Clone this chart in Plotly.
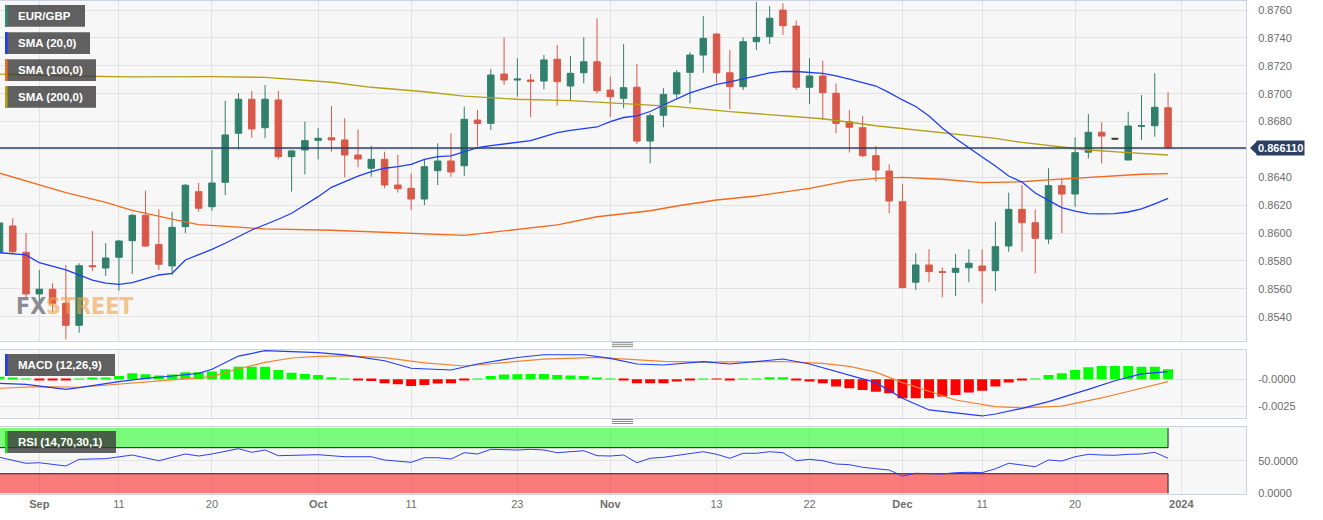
import pandas as pd
import plotly.graph_objects as go

# ---------------- data ----------------
dates = [d.strftime("%Y-%m-%d") for d in pd.bdate_range("2023-08-29", "2023-12-29")]
holidays = ["2023-12-25"]

opens = [0.85864, 0.86051, 0.85862, 0.85563, 0.85597, 0.85496, 0.85338, 0.85766, 0.85749, 0.85826,
         0.85945, 0.86127, 0.85917, 0.85764, 0.86046, 0.86297, 0.86189, 0.86364, 0.86716, 0.86960,
         0.86756, 0.86955, 0.86548, 0.86596, 0.86665, 0.86684, 0.86668, 0.86560, 0.86465, 0.86529,
         0.86345, 0.86321, 0.86244, 0.86448, 0.86517, 0.86483, 0.86811, 0.86787, 0.87141, 0.87098,
         0.87098, 0.87091, 0.87247, 0.87055, 0.87150, 0.87229, 0.87026, 0.86967, 0.87046, 0.86660,
         0.86845, 0.86998, 0.87153, 0.87277, 0.87428, 0.87150, 0.87050, 0.87373, 0.87409, 0.87600,
         0.87485, 0.87046, 0.87127, 0.87003, 0.86799, 0.86756, 0.86555, 0.86445, 0.86225, 0.85647,
         0.85771, 0.85723, 0.85718, 0.85751, 0.85764, 0.85730, 0.85907, 0.86170, 0.86074, 0.85957,
         0.86340, 0.86280, 0.86580, 0.86723, 0.86677, 0.86524, 0.86766, 0.86770, 0.86899]
highs = [0.86108, 0.86106, 0.86000, 0.85735, 0.85640, 0.85771, 0.85783, 0.86015, 0.85927, 0.85950,
         0.86137, 0.86304, 0.86170, 0.86153, 0.86352, 0.86361, 0.86596, 0.86950, 0.87003, 0.87021,
         0.87062, 0.87021, 0.86596, 0.86799, 0.86752, 0.86912, 0.86823, 0.86744, 0.86625, 0.86584,
         0.86560, 0.86429, 0.86524, 0.86644, 0.86716, 0.86907, 0.86883, 0.87177, 0.87404, 0.87254,
         0.87141, 0.87277, 0.87349, 0.87270, 0.87404, 0.87541, 0.87122, 0.87356, 0.87213, 0.86859,
         0.87039, 0.87170, 0.87297, 0.87557, 0.87435, 0.87313, 0.87404, 0.87660, 0.87629, 0.87648,
         0.87524, 0.87254, 0.87237, 0.87074, 0.86883, 0.86840, 0.86625, 0.86493, 0.86350, 0.85855,
         0.85884, 0.85754, 0.85850, 0.85884, 0.85884, 0.86081, 0.86290, 0.86345, 0.86170, 0.86465,
         0.86393, 0.86687, 0.86854, 0.86795, 0.86677, 0.86871, 0.86990, 0.87146, 0.87010]
lows = [0.85656, 0.85855, 0.85541, 0.85506, 0.85436, 0.85238, 0.85285, 0.85728, 0.85692, 0.85587,
        0.85706, 0.85900, 0.85735, 0.85700, 0.86000, 0.86153, 0.86160, 0.86271, 0.86601, 0.86684,
        0.86680, 0.86529, 0.86297, 0.86421, 0.86529, 0.86584, 0.86400, 0.86472, 0.86404, 0.86321,
        0.86290, 0.86165, 0.86201, 0.86345, 0.86404, 0.86411, 0.86620, 0.86739, 0.87062, 0.86978,
        0.86831, 0.87031, 0.86914, 0.86955, 0.87074, 0.87003, 0.86831, 0.86895, 0.86639, 0.86500,
        0.86759, 0.86960, 0.86931, 0.87150, 0.87079, 0.86888, 0.87026, 0.87313, 0.87356, 0.87421,
        0.87026, 0.86926, 0.86811, 0.86716, 0.86577, 0.86544, 0.86368, 0.86142, 0.85606, 0.85592,
        0.85647, 0.85539, 0.85548, 0.85647, 0.85496, 0.85584, 0.85866, 0.85866, 0.85711, 0.85922,
        0.86000, 0.86189, 0.86536, 0.86500, 0.86677, 0.86524, 0.86668, 0.86691, 0.86601]
closes = [0.86072, 0.85866, 0.85563, 0.85597, 0.85496, 0.85338, 0.85766, 0.85759, 0.85821, 0.85943,
          0.86127, 0.85907, 0.85776, 0.86041, 0.86343, 0.86178, 0.86359, 0.86704, 0.86960, 0.86747,
          0.86960, 0.86548, 0.86589, 0.86663, 0.86680, 0.86668, 0.86560, 0.86531, 0.86529, 0.86345,
          0.86318, 0.86244, 0.86476, 0.86517, 0.86438, 0.86816, 0.86787, 0.87134, 0.87098, 0.87105,
          0.87089, 0.87242, 0.87086, 0.87146, 0.87229, 0.87021, 0.86978, 0.87043, 0.86660, 0.86842,
          0.86995, 0.87150, 0.87277, 0.87397, 0.87150, 0.87050, 0.87373, 0.87404, 0.87541, 0.87488,
          0.87046, 0.87127, 0.87007, 0.86787, 0.86759, 0.86555, 0.86452, 0.86230, 0.85608, 0.85771,
          0.85723, 0.85718, 0.85747, 0.85783, 0.85730, 0.85902, 0.86170, 0.86074, 0.85962, 0.86340,
          0.86280, 0.86577, 0.86723, 0.86696, 0.86677, 0.86768, 0.86770, 0.86902, 0.86611]

sma20 = [0.85859, None, 0.85843, 0.85787, None, 0.85735, None, 0.85663, 0.85640, 0.85632,
         0.85644, None, 0.85699, 0.85711, 0.85807, 0.85843, 0.85883, 0.85927, 0.85975, 0.86022,
         None, 0.86099, 0.86142, 0.86201, 0.86261, 0.86328, 0.86368, 0.86409, 0.86440, 0.86465,
         0.86476, 0.86493, 0.86529, 0.86548, 0.86553, 0.86584, 0.86612, 0.86627, 0.86639, 0.86655,
         0.86663, 0.86691, 0.86720, 0.86736, None, 0.86761, 0.86799, 0.86829, 0.86840, 0.86872,
         0.86919, 0.86962, 0.87005, 0.87037, 0.87066, 0.87085, 0.87109, 0.87128, 0.87150, 0.87160,
         0.87159, 0.87152, 0.87145, 0.87127, 0.87105, None, 0.87055, 0.87008, 0.86955, 0.86908,
         0.86840, 0.86754, 0.86678, 0.86610, 0.86546, 0.86481, 0.86409, 0.86366, 0.86287, 0.86234,
         0.86183, 0.86158, 0.86140, 0.86137, 0.86140, 0.86151, 0.86173, 0.86209, 0.86249]

sma100_days = ["2023-08-29", "2023-08-31", "2023-09-05", "2023-09-08", "2023-09-12", "2023-09-15",
               "2023-09-19", "2023-09-22", "2023-09-26", "2023-10-03", "2023-10-06", "2023-10-12",
               "2023-10-17", "2023-10-20", "2023-10-26", "2023-10-31", "2023-11-06", "2023-11-08",
               "2023-11-13", "2023-11-16", "2023-11-22", "2023-11-27", "2023-11-29", "2023-12-01",
               "2023-12-06", "2023-12-11", "2023-12-14", "2023-12-18", "2023-12-20", "2023-12-25",
               "2023-12-27", "2023-12-29"]
sma100 = [0.86430, 0.86375, 0.86290, 0.86220, 0.86162, 0.86100, 0.86060, 0.86042, 0.86030, 0.86020,
          0.86010, 0.85992, 0.85983, 0.86015, 0.86058, 0.86117, 0.86160, 0.86194, 0.86237, 0.86266,
          0.86321, 0.86376, 0.86393, 0.86400, 0.86386, 0.86362, 0.86368, 0.86381, 0.86393, 0.86409,
          0.86422, 0.86426]

sma200_days = ["2023-08-29", "2023-09-05", "2023-09-12", "2023-09-20", "2023-09-26", "2023-10-03",
               "2023-10-06", "2023-10-12", "2023-10-17", "2023-10-23", "2023-10-27", "2023-11-02",
               "2023-11-06", "2023-11-08", "2023-11-14", "2023-11-17", "2023-11-23", "2023-11-29",
               "2023-12-05", "2023-12-08", "2023-12-12", "2023-12-14", "2023-12-19", "2023-12-21",
               "2023-12-26", "2023-12-29"]
sma200 = [0.87141, 0.87127, 0.87120, 0.87122, 0.87117, 0.87082, 0.87046, 0.87014, 0.86983, 0.86960,
          0.86950, 0.86931, 0.86919, 0.86907, 0.86871, 0.86847, 0.86820, 0.86770, 0.86732, 0.86700,
          0.86680, 0.86650, 0.86615, 0.86596, 0.86577, 0.86560]

macd_hist = [0.00023, 0.00009, 0.00003, -0.00003, -0.00009, -0.00005, 0.00003, 0.00009, 0.00014, 0.00030,
             0.00055, 0.00046, 0.00034, 0.00043, 0.00064, 0.00064, 0.00071, 0.00092, 0.00116, 0.00116,
             0.00116, 0.00085, 0.00061, 0.00049, 0.00039, 0.00018, 0.00003, -0.00006, -0.00016, -0.00037,
             -0.00046, -0.00061, -0.00052, -0.00039, -0.00037, -0.00012, 0.00003, 0.00030, 0.00043, 0.00046,
             0.00049, 0.00049, 0.00039, 0.00034, 0.00030, 0.00012, 0.00003, -0.00006, -0.00037, -0.00037,
             -0.00037, -0.00021, -0.00006, 0.00002, -0.00001, -0.00006, 0.00001, 0.00003, 0.00018, 0.00018,
             -0.00003, -0.00021, -0.00037, -0.00067, -0.00082, -0.00098, -0.00113, -0.00128, -0.00174, -0.00174,
             -0.00174, -0.00158, -0.00144, -0.00122, -0.00104, -0.00067, -0.00030, -0.00006, 0.00002, 0.00039,
             0.00055, 0.00085, 0.00110, 0.00122, 0.00122, 0.00122, 0.00116, 0.00116, 0.00092]

macd_days = ["2023-08-29", "2023-08-31", "2023-09-05", "2023-09-06", "2023-09-11", "2023-09-13",
             "2023-09-15", "2023-09-19", "2023-09-20", "2023-09-22", "2023-09-26", "2023-09-28",
             "2023-10-02", "2023-10-04", "2023-10-09", "2023-10-11", "2023-10-16", "2023-10-18",
             "2023-10-23", "2023-10-25", "2023-10-30", "2023-11-01", "2023-11-03", "2023-11-07",
             "2023-11-10", "2023-11-14", "2023-11-20", "2023-11-22", "2023-11-24", "2023-11-29",
             "2023-12-01", "2023-12-05", "2023-12-11", "2023-12-12", "2023-12-14", "2023-12-18",
             "2023-12-21", "2023-12-25", "2023-12-27", "2023-12-29"]
macd_line = [-0.00037, -0.00046, -0.00092, -0.00077, -0.00022, 0.00009, 0.00030, 0.00055, 0.00092, 0.00213,
             0.00262, 0.00253, 0.00244, 0.00223, 0.00170, 0.00101, 0.00085, 0.00140, 0.00200, 0.00225,
             0.00225, 0.00192, 0.00140, 0.00131, 0.00161, 0.00140, 0.00186, 0.00140, 0.00070, -0.00031,
             -0.00174, -0.00281, -0.00336, -0.00318, -0.00266, -0.00205, -0.00092, -0.00013, 0.00050, 0.00070]

signal_days = ["2023-08-29", "2023-09-01", "2023-09-06", "2023-09-11", "2023-09-15", "2023-09-20",
               "2023-09-22", "2023-09-26", "2023-09-28", "2023-10-02", "2023-10-04", "2023-10-09",
               "2023-10-12", "2023-10-17", "2023-10-20", "2023-10-25", "2023-10-31", "2023-11-03",
               "2023-11-07", "2023-11-10", "2023-11-20", "2023-11-23", "2023-11-27", "2023-11-29",
               "2023-12-01", "2023-12-05", "2023-12-07", "2023-12-12", "2023-12-14", "2023-12-19",
               "2023-12-22", "2023-12-26", "2023-12-29"]
signal_line = [-0.00082, -0.00068, -0.00073, -0.00046, -0.00006, 0.00025, 0.00097, 0.00155, 0.00195, 0.00210,
               0.00215, 0.00198, 0.00150, 0.00122, 0.00155, 0.00185, 0.00200, 0.00178, 0.00165, 0.00158,
               0.00163, 0.00145, 0.00118, 0.00065, -0.00030, -0.00110, -0.00190, -0.00251, -0.00262, -0.00245,
               -0.00170, -0.00112, -0.00022]

rsi_days = ["2023-08-29", "2023-08-31", "2023-09-01", "2023-09-05", "2023-09-06", "2023-09-08",
            "2023-09-12", "2023-09-14", "2023-09-18", "2023-09-19", "2023-09-20", "2023-09-22",
            "2023-09-25", "2023-09-26", "2023-09-27", "2023-10-02", "2023-10-04", "2023-10-06",
            "2023-10-09", "2023-10-11", "2023-10-12", "2023-10-13", "2023-10-16", "2023-10-17",
            "2023-10-18", "2023-10-19", "2023-10-23", "2023-10-24", "2023-10-25", "2023-10-26",
            "2023-10-30", "2023-10-31", "2023-11-01", "2023-11-02", "2023-11-03", "2023-11-06",
            "2023-11-07", "2023-11-10", "2023-11-13", "2023-11-14", "2023-11-15", "2023-11-16",
            "2023-11-17", "2023-11-20", "2023-11-21", "2023-11-22", "2023-11-23", "2023-11-24",
            "2023-11-27", "2023-11-28", "2023-11-29", "2023-11-30", "2023-12-01", "2023-12-04",
            "2023-12-06", "2023-12-07", "2023-12-08", "2023-12-11", "2023-12-12", "2023-12-13",
            "2023-12-14", "2023-12-15", "2023-12-18", "2023-12-19", "2023-12-20", "2023-12-21",
            "2023-12-22", "2023-12-25", "2023-12-26", "2023-12-27", "2023-12-28", "2023-12-29"]
rsi = [55.2, 46.0, 46.9, 41.9, 52.1, 53.1, 58.7, 50.0, 60.3, 57.2, 60.3, 68.4,
       62.9, 66.4, 57.7, 59.2, 56.1, 56.1, 51.1, 47.5, 54.6, 54.6, 52.6, 62.3,
       60.3, 67.5, 66.4, 67.5, 66.4, 62.3, 65.3, 57.7, 57.2, 58.7, 46.9, 53.7,
       55.2, 63.8, 59.8, 53.7, 61.4, 61.4, 63.8, 62.3, 50.0, 52.1, 50.0, 44.9,
       43.9, 39.9, 37.7, 35.7, 26.5, 30.7, 29.6, 31.6, 32.2, 31.6, 37.7, 46.0,
       43.4, 40.8, 51.1, 49.5, 56.1, 59.8, 58.7, 58.3, 59.8, 60.3, 62.9, 53.7]

tick_dates = ["2023-09-01", "2023-09-11", "2023-09-20", "2023-10-02", "2023-10-11", "2023-10-23",
              "2023-11-01", "2023-11-13", "2023-11-22", "2023-12-01", "2023-12-11", "2023-12-20",
              "2024-01-01"]
tick_text = ["<b>Sep</b>", "11", "20", "<b>Oct</b>", "11", "23", "<b>Nov</b>", "13", "22",
             "<b>Dec</b>", "11", "20", "<b>2024</b>"]
price_ticks = [0.8540, 0.8560, 0.8580, 0.8600, 0.8620, 0.8640, 0.8660, 0.8680, 0.8700, 0.8720, 0.8740, 0.8760]
macd_ticks = [0.0, -0.0025]
macd_tick_text = ["-0.0000", "-0.0025"]
rsi_ticks = [0, 50]
rsi_tick_text = ["0.0000", "50.0000"]
rsi_upper, rsi_lower = 70, 30
legend_labels = ["EUR/GBP", "SMA (20,0)", "SMA (100,0)", "SMA (200,0)"]

# ---------------- style ----------------
GREEN = "#31806c"
RED = "#d8594a"
BLUE = "#1f3df5"
ORANGE = "#f26a1c"
OLIVE = "#b4a018"
NAVY = "#2b3f63"
GRID = "#e3e3e3"
BORDER = "#cdd2e3"
FONT = "Liberation Sans, Arial, sans-serif"

PLOT_W = 1246
TOP, BOT = 1, 494


def py(Y):
    return (BOT - Y) / (BOT - TOP)


def pxx(X):
    return X / PLOT_W


pos = {d: i for i, d in enumerate(dates)}
tickvals = [pos.get(d, len(dates)) for d in tick_dates]
x_range = [0.04, 93.87]
y_range = [0.85229, 0.87665]

last = closes[-1]
# the price tag covers the tick label nearest to the last close, as in the source
price_tick_text = ["" if abs(v - last) < 0.0005 else f"{v:.4f}" for v in price_ticks]

fig = go.Figure()

# candlesticks
fig.add_trace(go.Candlestick(
    x=dates, open=opens, high=highs, low=lows, close=closes,
    increasing=dict(line=dict(color=GREEN, width=1), fillcolor=GREEN),
    decreasing=dict(line=dict(color=RED, width=1), fillcolor=RED),
    whiskerwidth=0, hoverinfo="skip", xaxis="x", yaxis="y"))
hidx = [pos[h] for h in holidays]
fig.add_trace(go.Candlestick(
    x=holidays, open=[opens[i] for i in hidx], high=[highs[i] for i in hidx],
    low=[lows[i] for i in hidx], close=[closes[i] for i in hidx],
    increasing=dict(line=dict(color="#3a3a3a", width=2), fillcolor="#3a3a3a"),
    decreasing=dict(line=dict(color="#3a3a3a", width=2), fillcolor="#3a3a3a"),
    whiskerwidth=0, hoverinfo="skip", xaxis="x", yaxis="y"))

fig.add_trace(go.Scatter(x=sma200_days, y=sma200, mode="lines", line=dict(color=OLIVE, width=1.3),
                         xaxis="x", yaxis="y", hoverinfo="skip"))
fig.add_trace(go.Scatter(x=sma100_days, y=sma100, mode="lines", line=dict(color=ORANGE, width=1.3),
                         xaxis="x", yaxis="y", hoverinfo="skip"))
fig.add_trace(go.Scatter(x=dates, y=sma20, mode="lines", connectgaps=True, line=dict(color=BLUE, width=1.3),
                         xaxis="x", yaxis="y", hoverinfo="skip"))

# MACD
fig.add_trace(go.Bar(x=dates, y=macd_hist,
                     marker=dict(color=["#00ff00" if v >= 0 else "#ff0000" for v in macd_hist], line=dict(width=0)),
                     xaxis="x2", yaxis="y2", hoverinfo="skip"))
fig.add_trace(go.Scatter(x=signal_days, y=signal_line, mode="lines", line=dict(color="#f5822f", width=1.2),
                         xaxis="x2", yaxis="y2", hoverinfo="skip"))
fig.add_trace(go.Scatter(x=macd_days, y=macd_line, mode="lines", line=dict(color=BLUE, width=1.2),
                         xaxis="x2", yaxis="y2", hoverinfo="skip"))

# RSI
fig.add_trace(go.Scatter(x=rsi_days, y=rsi, mode="lines", line=dict(color="#2a40f0", width=1),
                         xaxis="x3", yaxis="y3", hoverinfo="skip"))

shapes = []
shapes.append(dict(type="line", xref="paper", yref="y", x0=0, x1=1, y0=last, y1=last,
                   line=dict(color=NAVY, width=1.5)))
dy = 6.6 / (339.5 / (y_range[1] - y_range[0]))
shapes.append(dict(type="path", xref="paper", yref="y",
                   path=f"M {pxx(1250)},{last} L {pxx(1257)},{last + dy} L {pxx(1257)},{last - dy} Z",
                   fillcolor=NAVY, line=dict(width=0)))

last_pos = len(dates) - 1
# RSI bands
shapes.append(dict(type="rect", xref="x3", yref="y3", x0=-2, x1=last_pos, y0=rsi_upper, y1=100,
                   fillcolor="rgba(0,255,0,0.5)", line=dict(width=0), layer="between"))
shapes.append(dict(type="rect", xref="x3", yref="y3", x0=-2, x1=last_pos, y0=0, y1=rsi_lower,
                   fillcolor="rgba(255,0,0,0.5)", line=dict(width=0), layer="between"))
for (xa, xb, ya, yb) in [(-2, last_pos, rsi_upper, rsi_upper), (last_pos, last_pos, rsi_upper, 100),
                         (-2, last_pos, rsi_lower, rsi_lower), (last_pos, last_pos, 0, rsi_lower)]:
    shapes.append(dict(type="line", xref="x3", yref="y3", x0=xa, x1=xb, y0=ya, y1=yb,
                       line=dict(color="#1e1e1e", width=1), layer="between"))

# legend boxes
boxes = [(5, 85, 5, 26.7, "#2e8b74", legend_labels[0]),
         (5, 90, 32.3, 54, "#1f3df5", legend_labels[1]),
         (5, 96, 59.3, 81, "#f26a1c", legend_labels[2]),
         (5, 96, 86, 107.7, "#b4a018", legend_labels[3]),
         (5, 115, 354, 376, "#1f3df5", "MACD (12,26,9)"),
         (5, 116, 431, 453, "#22dd22", "RSI (14,70,30,1)")]
annotations = []
for (x0, x1, y0, y1, col, lab) in boxes:
    shapes.append(dict(type="rect", xref="paper", yref="paper", x0=pxx(x0), x1=pxx(x1), y0=py(y1), y1=py(y0),
                       fillcolor="rgba(58,58,58,0.8)", line=dict(width=0), layer="above"))
    shapes.append(dict(type="rect", xref="paper", yref="paper", x0=pxx(x0), x1=pxx(x0 + 2.6), y0=py(y1), y1=py(y0),
                       fillcolor=col, line=dict(width=0), layer="above"))
    annotations.append(dict(xref="paper", yref="paper", x=pxx(16), y=py((y0 + y1) / 2), xanchor="left",
                            yanchor="middle", text=lab, showarrow=False,
                            font=dict(family=FONT, size=11.5, color="white", weight="bold")))

# drag handles
for yc in (342.7, 419.5):
    for k in range(3):
        shapes.append(dict(type="line", xref="paper", yref="paper", x0=pxx(612), x1=pxx(633),
                           y0=py(yc + 2 * k), y1=py(yc + 2 * k), line=dict(color="#8a8a8a", width=1)))

annotations.append(dict(xref="paper", yref="y", x=1, y=last, xanchor="left", yanchor="middle", xshift=10,
                        text=f"<b>{last:.6f}</b>", showarrow=False, bgcolor=NAVY, borderpad=1,
                        font=dict(family=FONT, size=11, color="white")))
annotations.append(dict(xref="paper", yref="paper", x=pxx(14), y=py(306), xanchor="left", yanchor="middle",
                        text="<span style='color:rgba(105,105,115,0.75)'>FX</span>"
                             "<span style='color:rgba(238,160,70,0.6)'>STREET</span>",
                        showarrow=False,
                        font=dict(family="DejaVu Sans Condensed, Liberation Sans Narrow, sans-serif", size=23,
                                  weight="bold")))

xcommon = dict(type="category", categoryorder="array", categoryarray=dates, range=x_range,
               tickmode="array", tickvals=tickvals, ticktext=tick_text, showgrid=True, gridcolor=GRID,
               gridwidth=1, showline=True, linecolor=BORDER, mirror=True, zeroline=False,
               rangeslider=dict(visible=False), fixedrange=True)
ycommon = dict(side="right", showgrid=True, gridcolor=GRID, gridwidth=1, showline=True, linecolor=BORDER,
               mirror=True, zeroline=False, tickmode="array", ticklabelstandoff=9,
               tickfont=dict(family=FONT, size=11, color="#6b6b6b"), fixedrange=True)

fig.update_layout(
    width=1323, height=520,
    margin=dict(l=0, r=1323 - PLOT_W, t=TOP, b=520 - BOT, autoexpand=False),
    paper_bgcolor="white", plot_bgcolor="#f7f7f7",
    showlegend=False, bargap=0.25,
    font=dict(family=FONT, size=11, color="#6b6b6b"),
    xaxis=dict(xcommon, domain=[0, 1], anchor="y", showticklabels=False),
    xaxis2=dict(xcommon, domain=[0, 1], anchor="y2", matches="x", showticklabels=False),
    xaxis3=dict(xcommon, domain=[0, 1], anchor="y3", matches="x", showticklabels=True,
                tickfont=dict(family=FONT, size=11, color="#6e6e6e")),
    yaxis=dict(ycommon, domain=[py(340.5), py(TOP)], range=y_range, anchor="x",
               tickvals=price_ticks, ticktext=price_tick_text),
    yaxis2=dict(ycommon, domain=[py(417.5), py(349.5)], range=[-0.0035, 0.00273], anchor="x2",
                tickvals=macd_ticks, ticktext=macd_tick_text),
    yaxis3=dict(ycommon, domain=[py(BOT), py(427)], range=[-1.07, 101.7], anchor="x3",
                tickvals=rsi_ticks, ticktext=rsi_tick_text),
    shapes=shapes, annotations=annotations,
)

fig.write_html("out.html")
